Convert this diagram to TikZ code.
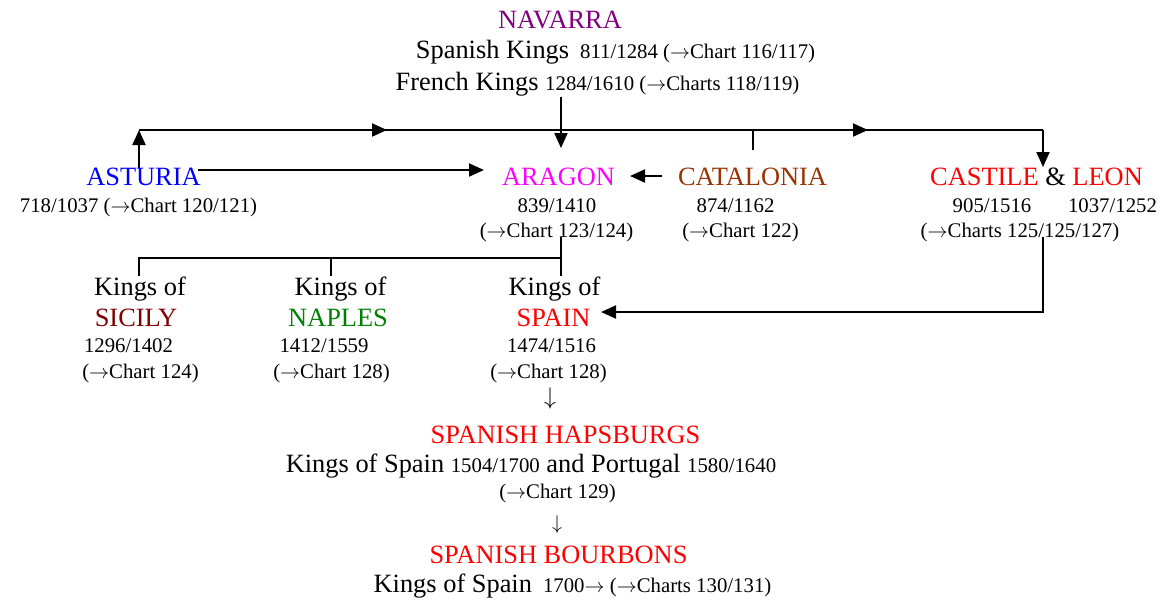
\documentclass[tikz,border=0pt]{standalone}
\usepackage{fontspec}
\setmainfont{Liberation Serif}
\usetikzlibrary{arrows.meta}
\newcommand{\bigf}{\fontsize{13.2}{15}\selectfont}
\newcommand{\smf}{\fontsize{10.4}{12}\selectfont}
\newcommand{\ra}{$\rightarrow$}
\definecolor{navpurple}{HTML}{800080}
\definecolor{astblue}{HTML}{0000FF}
\definecolor{aramag}{HTML}{FF00FF}
\definecolor{catbrown}{HTML}{993300}
\definecolor{kred}{HTML}{FF0000}
\definecolor{sicred}{HTML}{800000}
\definecolor{napgreen}{HTML}{008000}
\begin{document}
\begin{tikzpicture}[x=0.5pt,y=-0.5pt,
  txt/.style={inner sep=0pt, anchor=base, font=\bigf},
  sm/.style={inner sep=0pt, anchor=base, font=\smf},
  conn/.style={line width=1pt},
  tipped/.style={line width=1pt, -{Triangle[length=7.5pt,width=6.5pt]}}]
\useasboundingbox (0,0) rectangle (1163,602);

% ---- NAVARRA ----
\node[txt, text=navpurple] (navarra) at (560,28) {NAVARRA};
\node[txt] (nav1) at (615.5,58) {Spanish Kings\, {\smf 811/1284 (\ra Chart 116/117)}};
\node[txt] (nav2) at (597.5,90) {French Kings {\smf 1284/1610 (\ra Charts 118/119)}};

% ---- middle row ----
\node[txt, text=astblue] (asturia) at (143.5,185) {ASTURIA};
\node[sm] (ast1) at (138.5,212) {718/1037 (\ra Chart 120/121)};

\node[txt, text=aramag] (aragon) at (558.5,185) {ARAGON};
\node[sm] (ara1) at (557,212) {839/1410};
\node[sm] (ara2) at (556.5,237) {(\ra Chart 123/124)};

\node[txt, text=catbrown] (catalonia) at (752.5,185) {CATALONIA};
\node[sm] (cat1) at (735.5,212) {874/1162};
\node[sm] (cat2) at (740.5,237) {(\ra Chart 122)};

\node[txt] (castile) at (1036.5,185) {\textcolor{kred}{CASTILE} \& \textcolor{kred}{LEON}};
\node[sm] (cas1) at (992,212) {905/1516};
\node[sm] (cas2) at (1112.5,212) {1037/1252};
\node[sm] (cas3) at (1020,237) {(\ra Charts 125/125/127)};

% ---- kings row ----
\node[txt] (sic0) at (140,295) {Kings of};
\node[txt, text=sicred] (sicily) at (136,326) {SICILY};
\node[sm] (sic1) at (128.5,352) {1296/1402};
\node[sm] (sic2) at (140.5,378) {(\ra Chart 124)};

\node[txt] (nap0) at (340.5,295) {Kings of};
\node[txt, text=napgreen] (naples) at (338,326) {NAPLES};
\node[sm] (nap1) at (324,352) {1412/1559};
\node[sm] (nap2) at (331.5,378) {(\ra Chart 128)};

\node[txt] (spa0) at (554.5,295) {Kings of};
\node[txt, text=kred] (spain) at (553.5,326) {SPAIN};
\node[sm] (spa1) at (551.5,352) {1474/1516};
\node[sm] (spa2) at (548.5,378) {(\ra Chart 128)};

% ---- lower part ----
\node[inner sep=0pt, font=\bigf] (down1) at (550,398) {$\downarrow$};
\node[txt, text=kred] (hapsburgs) at (565.5,443) {SPANISH HAPSBURGS};
\node[txt] (hap1) at (531,472) {Kings of Spain {\smf 1504/1700} and Portugal {\smf 1580/1640}};
\node[sm] (hap2) at (557.5,498) {(\ra Chart 129)};
\node[inner sep=0pt, font=\smf] (down2) at (557,524) {$\downarrow$};
\node[txt, text=kred] (bourbons) at (558.5,563) {SPANISH BOURBONS};
\node[txt] (bour1) at (572.5,592) {Kings of Spain\, {\smf 1700\ra{} (\ra Charts 130/131)}};

% ---- connector coordinates ----
\coordinate (navtop) at (561,97);
\coordinate (aratop) at (561,148);
\coordinate (lineL) at (139,130);
\coordinate (lineR) at (1043,130);
\coordinate (asttop) at (139,168);
\coordinate (astR) at (198,170);
\coordinate (araL) at (484,170);
\coordinate (catT) at (753,130);
\coordinate (catB) at (753,150);
\coordinate (catL) at (662,176);
\coordinate (araR) at (630,176);
\coordinate (casT) at (1043,167);
\coordinate (casB) at (1043,237);
\coordinate (casC) at (1043,312);
\coordinate (spaR) at (601,312);
\coordinate (araB) at (561,237);
\coordinate (kingsR) at (561,258);
\coordinate (kingsL) at (139,258);
\coordinate (kingsM) at (331,258);
\coordinate (sicT) at (139,276);
\coordinate (napT) at (331,276);
\coordinate (spaT) at (561,276);

% ---- connectors ----
\draw[tipped] (navtop) -- (aratop);
\draw[conn] (lineL) -- (lineR);
\draw[tipped] (asttop) -- (lineL);
\draw[tipped] (lineL) -- (387,130);
\draw[tipped] (lineL) -- (868,130);
\draw[tipped] (lineR) -- (casT);
\draw[conn] (catT) -- (catB);
\draw[tipped] (astR) -- (araL);
\draw[tipped] (catL) -- (araR);
\draw[tipped] (casB) -- (casC) -- (spaR);
\draw[conn] (araB) -- (kingsR) -- (kingsL) -- (sicT);
\draw[conn] (kingsM) -- (napT);
\draw[conn] (kingsR) -- (spaT);
\end{tikzpicture}
\end{document}
